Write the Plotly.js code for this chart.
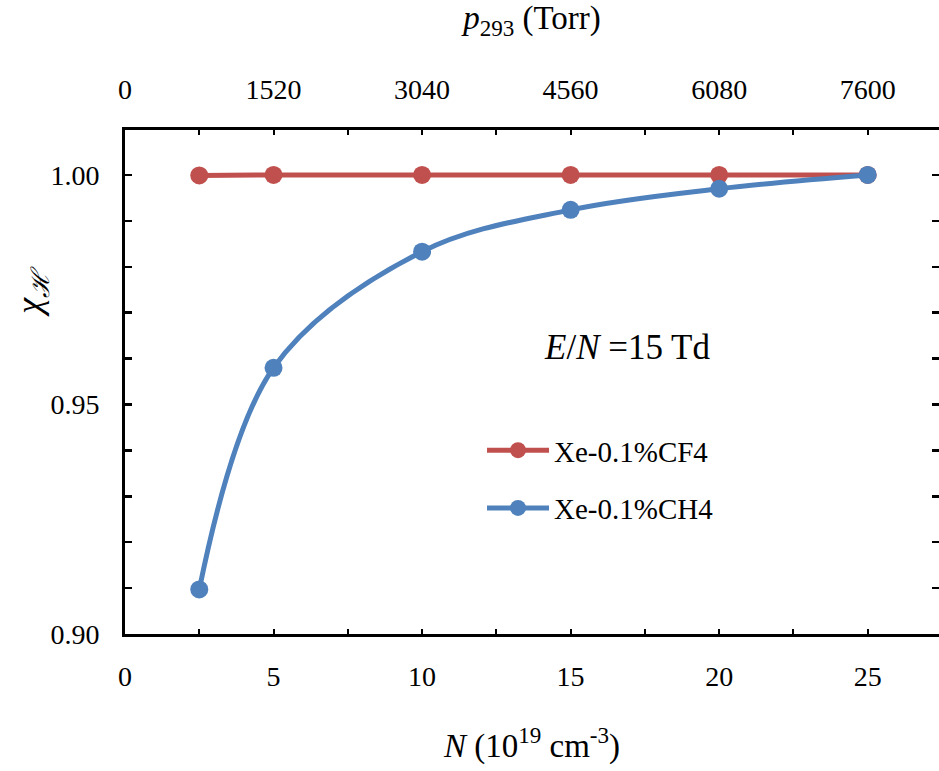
<!DOCTYPE html>
<html>
<head>
<meta charset="utf-8">
<script src="https://cdn.plot.ly/plotly-3.0.1.min.js"></script>
<style>html,body{margin:0;padding:0;background:#fff;}#chart{width:939px;height:771px;}</style>
</head>
<body>
<div id="chart"></div>
<script>
const nValues = [2.5, 5, 10, 15, 20, 25];
const cf4Values = [0.9999, 1.0, 1.0, 1.0, 1.0, 1.0];
const ch4Values = [0.9097, 0.958, 0.9833, 0.9924, 0.9970, 1.0];
const seriesNames = ['Xe-0.1%CF4', 'Xe-0.1%CH4'];
const torrTicks = [0, 1520, 3040, 4560, 6080, 7600];
const torrPerUnit = 304;
const xMax = 27.4;

const font = 'Liberation Serif, Times New Roman, serif';

const traces = [
  {x: nValues, y: cf4Values, name: seriesNames[0], mode: 'lines+markers', type: 'scatter',
   line: {color: '#C0504D', width: 5, shape: 'spline'}, marker: {color: '#C0504D', size: 18},
   legendgroup: 'a'},
  {x: nValues, y: ch4Values, name: seriesNames[1], mode: 'lines+markers', type: 'scatter',
   line: {color: '#4F81BD', width: 5, shape: 'spline', smoothing: 1}, marker: {color: '#4F81BD', size: 18},
   legendgroup: 'b'},
  {x: [0], y: [0.5], xaxis: 'x2', yaxis: 'y', showlegend: false, hoverinfo: 'skip', mode: 'markers', marker: {opacity: 0}}
];

const layout = {
  width: 939, height: 771,
  margin: {l: 125, r: 0, t: 130, b: 137},
  paper_bgcolor: '#fff', plot_bgcolor: '#fff',
  font: {family: font, size: 28, color: '#000'},
  showlegend: true,
  legend: {x: 0.4386, y: 0.415, xanchor: 'left', yanchor: 'top', bgcolor: 'rgba(0,0,0,0)',
           itemwidth: 62,
           font: {family: font, size: 29}, tracegroupgap: 17, traceorder: 'grouped'},
  xaxis: {range: [0, xMax], tickvals: [0, 5, 10, 15, 20, 25], ticks: 'inside', ticklen: 5, tickwidth: 2,
          tickcolor: '#000', showline: true, linewidth: 3, linecolor: '#000', mirror: 'allticks',
          showgrid: false, zeroline: false, ticklabelstandoff: 15,
          minor: {dtick: 2.5, tick0: 0, ticks: 'inside', ticklen: 5, tickwidth: 2, tickcolor: '#000'},
          tickfont: {family: font, size: 28},
          title: {text: '<i>N</i> (10<sup>19</sup> cm<sup>-3</sup>)', font: {family: font, size: 33}, standoff: 44}},
  xaxis2: {range: [0, xMax * torrPerUnit], overlaying: 'x', side: 'top', tickvals: torrTicks,
           ticks: '', showline: false, showgrid: false, zeroline: false, ticklabelstandoff: 24,
           tickfont: {family: font, size: 28},
           title: {text: '<i>p</i><sub>293</sub> (Torr)', font: {family: font, size: 33}, standoff: 35}},
  yaxis: {range: [0.9, 1.0098], tickvals: [0.90, 0.95, 1.00], ticktext: ['0.90', '0.95', '1.00'],
          ticks: 'inside', ticklen: 7, tickwidth: 2.5, tickcolor: '#000',
          showline: true, linewidth: 3, linecolor: '#000', mirror: 'allticks',
          showgrid: false, zeroline: false, ticklabelstandoff: 17,
          minor: {dtick: 0.01, tick0: 0.9, ticks: 'inside', ticklen: 7, tickwidth: 2.5, tickcolor: '#000'},
          tickfont: {family: font, size: 28}},
  annotations: [
    {text: '<i>χ</i><sub><i>ℋ</i></sub>', xref: 'paper', yref: 'paper', x: -0.115, y: 0.68,
     xanchor: 'center', yanchor: 'middle',
     showarrow: false, textangle: -90, font: {family: font, size: 36}},
    {text: '<i>E</i>/<i>N</i> =15 Td', xref: 'paper', yref: 'paper', x: 0.617, y: 0.568,
     xanchor: 'center', yanchor: 'middle',
     showarrow: false, font: {family: font, size: 35}}
  ]
};

Plotly.newPlot('chart', traces, layout, {displayModeBar: false, staticPlot: true});
</script>
</body>
</html>
